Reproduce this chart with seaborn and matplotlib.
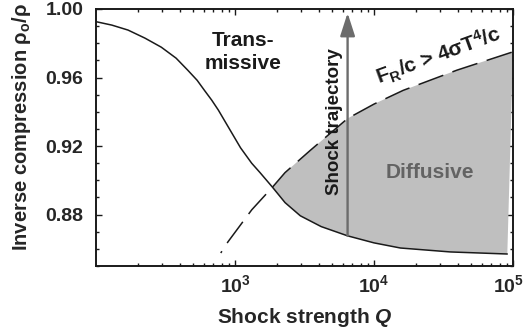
import numpy as np
import matplotlib
matplotlib.use("Agg")
import matplotlib.pyplot as plt
import matplotlib.transforms as mtransforms
import seaborn as sns

# Inverse compression along the transmissive/diffusive boundary (solid)
q_solid = [100, 130, 170, 225, 295, 377, 457, 534, 603, 680, 759, 912, 1096,
           1318, 1514, 1860, 2291, 2951, 4169, 6457, 10000, 15488, 35481, 91000]
r_solid = [0.9926, 0.9906, 0.9877, 0.9830, 0.9777, 0.9713, 0.9643, 0.9584,
           0.9525, 0.9468, 0.9410, 0.9300, 0.9190, 0.9100, 0.9045, 0.8960,
           0.8870, 0.8793, 0.8730, 0.8676, 0.8635, 0.8605, 0.8582, 0.8570]

# Radiative-flux criterion F_R/c > 4 sigma T^4 / c (dashed)
q_flux = [790, 890, 1320, 1860, 2290, 3470, 6457, 10000, 16200, 39500, 100000]
r_flux = [0.8576, 0.8641, 0.8828, 0.8960, 0.9045, 0.9174, 0.9361, 0.9445,
          0.9525, 0.9643, 0.9750]

# Shock trajectory at fixed strength
q_traj = 6457
r_traj_start = 0.8676
r_traj_end = 0.9977

x_ticks = [1e3, 1e4, 1e5]
y_ticks = [0.88, 0.92, 0.96, 1.00]

sns.set_theme(style="ticks")
plt.rcParams["font.family"] = ["Liberation Sans", "DejaVu Sans"]
plt.rcParams["font.weight"] = "bold"
plt.rcParams["mathtext.fontset"] = "custom"
plt.rcParams["mathtext.rm"] = "Liberation Sans:bold"
plt.rcParams["mathtext.bf"] = "Liberation Sans:bold"
plt.rcParams["mathtext.it"] = "Liberation Sans:italic:bold"
plt.rcParams["lines.scale_dashes"] = False

fig = plt.figure(figsize=(5.24, 3.32), dpi=100)
ax = fig.add_axes([0.1832, 0.1988, 0.7958, 0.7741])
ax.set_xscale("log")

# Shaded diffusive region between the two boundaries
i_s = q_solid.index(1860)
i_f = q_flux.index(1860)
poly_q = q_flux[i_f:] + q_solid[i_s:][::-1]
poly_r = r_flux[i_f:] + r_solid[i_s:][::-1]
ax.fill(poly_q, poly_r, color="#bfbfbf", lw=0, zorder=1)

sns.lineplot(x=q_solid, y=r_solid, ax=ax, color="#1a1a1a", lw=1.1,
             sort=False, estimator=None, zorder=3)
sns.lineplot(x=q_flux, y=r_flux, ax=ax, color="#1a1a1a", lw=1.1,
             sort=False, estimator=None, zorder=3,
             linestyle=(17.5, (19, 7)))

ax.annotate("", xy=(q_traj, r_traj_end), xytext=(q_traj, r_traj_start),
            arrowprops=dict(arrowstyle="-|>,head_length=1.4,head_width=0.45",
                            color="#6c6c6c", lw=1.7, mutation_scale=10,
                            shrinkA=0, shrinkB=0),
            zorder=4)

ax.set_xlim(100, 1e5)
ax.set_ylim(0.85, 1.00)
ax.set_xticks(x_ticks)
ax.set_xticklabels([r"$\mathregular{10^{%d}}$" % int(np.log10(v)) for v in x_ticks])
ax.set_yticks(y_ticks)
ax.set_yticklabels(["%.2f" % v for v in y_ticks])
ax.yaxis.set_minor_locator(matplotlib.ticker.MultipleLocator(0.01))
ax.xaxis.set_minor_locator(matplotlib.ticker.LogLocator(base=10, subs=np.arange(2, 10)))
ax.xaxis.set_minor_formatter(matplotlib.ticker.NullFormatter())

for s in ax.spines.values():
    s.set_linewidth(1.4)
    s.set_color("#1a1a1a")
ax.tick_params(which="both", direction="in", top=True, right=True,
               color="#1a1a1a", width=1.0)
ax.tick_params(which="major", length=4)
ax.tick_params(which="minor", length=2.5)
ax.tick_params(axis="y", which="major", labelsize=14, pad=9)
ax.tick_params(axis="x", which="major", labelsize=14, pad=6)

# keep the last decade label inside the canvas
last = ax.get_xticklabels()[-1]
last.set_transform(last.get_transform() +
                   mtransforms.ScaledTranslation(-4 / 100, 0, fig.dpi_scale_trans))

ax.set_xlabel(r"Shock strength $Q$", fontsize=15, fontweight="bold", labelpad=7)
ax.set_ylabel(r"Inverse compression ρ$_\mathregular{o}$/ρ", fontsize=14.5,
              fontweight="bold")
ax.yaxis.set_label_coords(-0.152, 0.54)

ax.text(1143, 0.9748, "Trans-\nmissive", ha="center", va="center",
        fontsize=15, fontweight="bold", color="#1a1a1a", linespacing=1.25)
ax.text(25300, 0.9045, "Diffusive", ha="center", va="center",
        fontsize=15, fontweight="bold", color="#636363")
ax.text(5240, 0.9344, "Shock trajectory", ha="center", va="center",
        rotation=90, fontsize=13.5, fontweight="bold", color="#1a1a1a")
ax.text(29000, 0.9730, r"F$_\mathregular{R}$/c > 4σT$^\mathregular{4}$/c",
        ha="center", va="center", rotation=20, rotation_mode="anchor",
        fontsize=15, fontweight="bold", color="#1a1a1a")

fig.savefig("out.png", dpi=100)
